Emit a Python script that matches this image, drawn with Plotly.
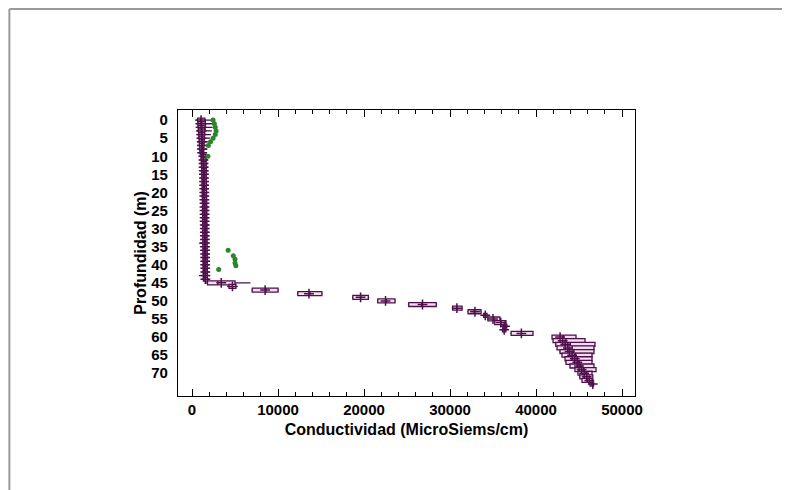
import plotly.graph_objects as go

# ---------------- data ----------------
depth = list(range(0, 74))

q1 = [650, 700, 720, 760, 800, 820, 850, 880, 900, 950,
      1050, 1080, 1100, 1120, 1120, 1150, 1150, 1180, 1180, 1200,
      1200, 1200, 1220, 1220, 1230, 1230, 1240, 1240, 1250, 1250,
      1250, 1260, 1260, 1270, 1270, 1280, 1280, 1290, 1290, 1300,
      1300, 1300, 1310, 1320, 1320,
      1800, 4300, 7000, 12300, 18700, 21600, 25200, 30300, 32100, 33900,
      34400, 35200, 36200, 36100, 37100,
      41860, 41980, 42300, 42440, 42790, 43020, 43370, 43490, 43950, 44530,
      44880, 45100, 45350, 46300]

median = [1000, 1050, 1080, 1100, 1100, 1120, 1150, 1150, 1150, 1180,
          1300, 1320, 1330, 1350, 1350, 1380, 1380, 1400, 1400, 1420,
          1420, 1430, 1440, 1440, 1450, 1450, 1460, 1460, 1470, 1470,
          1480, 1480, 1490, 1490, 1500, 1500, 1510, 1510, 1520, 1520,
          1530, 1530, 1540, 1540, 1550,
          3000, 4700, 8600, 13700, 19600, 22600, 26700, 30800, 32800, 34100,
          35100, 35900, 36400, 36300, 38300,
          43200, 43500, 44000, 44200, 44400, 44600, 44800, 45000, 45200, 45500,
          45700, 45900, 46000, 46500]

q3 = [1500, 1550, 1520, 1480, 1450, 1430, 1400, 1380, 1350, 1350,
      1600, 1620, 1630, 1640, 1650, 1650, 1660, 1660, 1670, 1670,
      1680, 1680, 1690, 1690, 1700, 1700, 1700, 1710, 1710, 1720,
      1720, 1720, 1730, 1730, 1740, 1740, 1750, 1750, 1760, 1760,
      1770, 1770, 1780, 1780, 1790,
      5000, 5100, 10000, 15100, 20500, 23600, 28400, 31400, 33600, 34300,
      35800, 36500, 36600, 36500, 39650,
      44650, 45700, 46860, 46740, 46740, 46510, 46510, 46510, 46740, 46980,
      46510, 46600, 46510, 46700]

lowf = [350, 400, 420, 450, 500, 520, 560, 600, 650, 700,
        850, 880, 900, 920, 930, 950, 960, 980, 990, 1000,
        1000, 1010, 1020, 1030, 1040, 1050, 1050, 1060, 1070, 1080,
        1080, 1090, 1100, 1100, 800, 1110, 1120, 1120, 1130, 1130,
        1140, 1140, 1150, 800, 1150,
        1500, 4100, 6900, 12200, 18600, 21500, 25100, 30200, 32000, 33800,
        34300, 35100, 36000, 36000, 37000,
        41800, 41900, 42200, 42400, 42700, 42950, 43300, 43400, 43900, 44450,
        44800, 45000, 45300, 46250]

highf = [2400, 2450, 2400, 2300, 2200, 2100, 2000, 1900, 1800, 1750,
         1850, 1860, 1870, 1880, 1880, 1890, 1890, 1900, 1900, 1910,
         1910, 1920, 1920, 1930, 1930, 1940, 1940, 1950, 1950, 1960,
         1960, 1970, 1970, 1980, 1980, 1990, 1990, 2000, 2000, 2010,
         2010, 2020, 2030, 2100, 2050,
         6800, 5300, 10100, 15200, 20600, 23700, 28500, 31500, 33700, 34400,
         35900, 36600, 36700, 36600, 39700,
         44700, 45750, 46900, 46800, 46800, 46550, 46550, 46550, 46800, 47000,
         46550, 46650, 46550, 46750]

mean = [1050, 1100, 1100, 1120, 1120, 1130, 1150, 1150, 1160, 1180,
        1310, 1330, 1340, 1350, 1360, 1380, 1390, 1400, 1410, 1420,
        1430, 1430, 1440, 1450, 1450, 1460, 1460, 1470, 1470, 1480,
        1480, 1490, 1490, 1500, 1500, 1510, 1510, 1520, 1520, 1530,
        1530, 1540, 1540, 1550, 1550,
        3400, 4700, 8500, 13600, 19600, 22500, 26800, 30800, 32900, 34100,
        35000, 35900, 36400, 36300, 38300,
        42800, 43100, 43400, 43700, 43900, 44200, 44500, 44800, 45000, 45300,
        45600, 45900, 46200, 46600]

green_depth = [0, 1, 2, 3, 4, 5, 6, 7, 10, 36, 37.5, 38.5, 39.5, 40.3, 41.3]
green_cond = [2450, 2600, 2700, 2800, 2700, 2450, 2150, 1900, 1850,
              4200, 4800, 5000, 5000, 5100, 3100]

x_tickvals = [0, 10000, 20000, 30000, 40000, 50000]
y_tickvals = list(range(0, 75, 5))

# ---------------- figure ----------------
purple = "#4f0f4a"
fill = "#f2dcee"
green = "#2a862a"
font_family = "Liberation Sans, Arial, sans-serif"

fig = go.Figure()

fig.add_trace(go.Box(
    orientation="h",
    y=depth,
    q1=q1, median=median, q3=q3,
    lowerfence=lowf, upperfence=highf,
    width=1.1,
    whiskerwidth=0,
    fillcolor=fill,
    line=dict(color=purple, width=1.3),
    marker=dict(size=0),
    boxpoints=False,
    hoverinfo="skip",
    showlegend=False,
))

fig.add_trace(go.Scatter(
    x=mean, y=depth, mode="markers",
    marker=dict(symbol="cross-thin", size=7, line=dict(color=purple, width=1.5)),
    showlegend=False, hoverinfo="skip",
))

fig.add_trace(go.Scatter(
    x=green_cond, y=green_depth, mode="markers",
    marker=dict(symbol="circle", size=5, color=green),
    showlegend=False, hoverinfo="skip",
))

fig.update_layout(
    width=782, height=482,
    margin=dict(l=170, r=155, t=102, b=94),
    paper_bgcolor="white", plot_bgcolor="white",
    font=dict(family=font_family, color="black"),
    shapes=[
        dict(type="line", xref="paper", yref="paper",
             x0=-0.369, x1=1.36, y0=1.353, y1=1.353,
             line=dict(color="#9a9a9a", width=2)),
        dict(type="line", xref="paper", yref="paper",
             x0=-0.369, x1=-0.369, y0=1.353, y1=-0.35,
             line=dict(color="#9a9a9a", width=2)),
    ],
)

fig.update_xaxes(
    range=[-1630, 51510],
    tickvals=x_tickvals,
    ticktext=[str(v) for v in x_tickvals],
    ticks="inside", ticklen=7, tickwidth=1, tickcolor="black",
    minor=dict(dtick=2000, ticks="inside", ticklen=4, tickcolor="black"),
    showline=True, linecolor="black", linewidth=1.3, mirror="ticks",
    showgrid=False, zeroline=False,
    tickfont=dict(size=15, family=font_family, weight="bold"),
    title=dict(text="<b>Conductividad (MicroSiems/cm)</b>",
               font=dict(size=16, family=font_family), standoff=6),
)

fig.update_yaxes(
    range=[76.3, -2.8],
    tickvals=y_tickvals,
    ticktext=[str(v) for v in y_tickvals],
    ticks="", showline=True, linecolor="black", linewidth=1.3, mirror=True,
    showgrid=False, zeroline=False,
    ticklabelstandoff=6,
    tickfont=dict(size=15, family=font_family, weight="bold"),
    title=dict(text="<b>Profundidad (m)</b>",
               font=dict(size=16, family=font_family), standoff=0),
)

fig.write_html("out.html")
